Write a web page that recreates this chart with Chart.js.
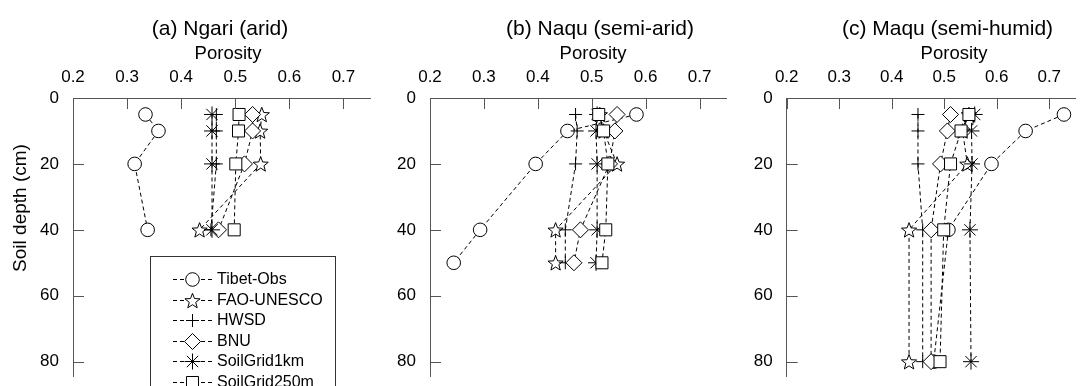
<!DOCTYPE html>
<html>
<head>
<meta charset="utf-8">
<script src="https://cdn.jsdelivr.net/npm/chart.js@4.4.1/dist/chart.umd.min.js"></script>
<style>
  html, body { margin: 0; padding: 0; background: #fff; }
  #wrap { position: relative; width: 1085px; height: 386px; overflow: hidden; }
  canvas { position: absolute; top: 0; }
</style>
</head>
<body>
<div id="wrap">
  <canvas id="chartA" width="380" height="386" style="left:0px"></canvas>
  <canvas id="chartB" width="360" height="386" style="left:376px"></canvas>
  <canvas id="chartC" width="353" height="386" style="left:732px"></canvas>
</div>
<script>
// tick labels
const porosityTicks = [0.2, 0.3, 0.4, 0.5, 0.6, 0.7];
const depthTicks = [0, 20, 40, 60, 80];
const seriesNames = ['Tibet-Obs', 'FAO-UNESCO', 'HWSD', 'BNU', 'SoilGrid1km', 'SoilGrid250m'];

// (a) Ngari
const depthNgari = [5, 10, 20, 40];
const obsNgari = [0.334, 0.358, 0.314, 0.338];
const faoNgari = [0.549, 0.546, 0.547, 0.434];
const hwsdNgari = [0.465, 0.465, 0.465, 0.455];
const bnuNgari = [0.532, 0.532, 0.517, 0.469];
const sg1kmNgari = [0.457, 0.457, 0.457, 0.457];
const sg250mNgari = [0.507, 0.506, 0.501, 0.498];

// (b) Naqu
const depthNaqu = [5, 10, 20, 40, 50];
const obsNaqu = [0.583, 0.455, 0.396, 0.293, 0.244];
const faoNaqu = [0.515, 0.522, 0.547, 0.433, 0.433];
const hwsdNaqu = [0.470, 0.473, 0.470, 0.451, 0.451];
const bnuNaqu = [0.547, 0.543, 0.533, 0.479, 0.467];
const sg1kmNaqu = [0.510, 0.508, 0.510, 0.510, 0.508];
const sg250mNaqu = [0.513, 0.522, 0.530, 0.526, 0.519];

// (c) Maqu
const depthMaqu = [5, 10, 20, 40, 80];
const obsMaqu = [0.728, 0.655, 0.590, 0.508, 0.480];
const faoMaqu = [0.547, 0.535, 0.544, 0.433, 0.433];
const hwsdMaqu = [0.450, 0.450, 0.450, 0.459, 0.459];
const bnuMaqu = [0.512, 0.506, 0.493, 0.475, 0.475];
const sg1kmMaqu = [0.558, 0.552, 0.553, 0.549, 0.551];
const sg250mMaqu = [0.547, 0.532, 0.512, 0.499, 0.492];

const family = '"Liberation Sans", Arial, Helvetica, sans-serif';
const axisColor = '#555';

// marker per series (FAO star is drawn by the plugin, chart.js has no 5-point star)
const pointStyles = ['circle', 'circle', 'cross', 'rectRot', 'star', 'rect'];
const pointSizes = [6.8, 0, 6.5, 8, 8, 8.5];

function starPath(ctx, x, y) {
  ctx.beginPath();
  for (let k = 0; k < 10; k++) {
    const r = k % 2 === 0 ? 8 : 3.4;
    const a = -Math.PI / 2 + k * Math.PI / 5;
    const px = x + r * Math.cos(a), py = y + 0.8 + r * Math.sin(a);
    if (k === 0) ctx.moveTo(px, py); else ctx.lineTo(px, py);
  }
  ctx.closePath();
  ctx.fill();
  ctx.stroke();
}

function drawMarker(ctx, i, x, y) {
  ctx.save();
  ctx.setLineDash([]);
  ctx.lineWidth = 1;
  ctx.strokeStyle = '#000';
  ctx.fillStyle = '#fff';
  if (i === 1) {
    starPath(ctx, x, y);
  } else {
    Chart.helpers.drawPoint(ctx, { pointStyle: pointStyles[i], radius: pointSizes[i], rotation: 0, borderWidth: 1 }, x, y);
  }
  ctx.restore();
}

function buildDatasets(depths, series) {
  return series.map((vals, i) => ({
    label: seriesNames[i],
    data: depths.map((d, j) => ({ x: vals[j], y: d })),
    showLine: true,
    borderColor: '#000',
    borderWidth: 1,
    borderDash: [4, 3],
    pointStyle: pointStyles[i],
    pointRadius: pointSizes[i],
    pointBackgroundColor: '#fff',
    pointBorderColor: '#000',
    pointBorderWidth: 1,
    order: series.length - i,
    clip: false
  }));
}

// titles, inward tick marks, star markers, legend
const panelText = {
  id: 'panelText',
  afterDatasetDraw(chart, args) {
    if (chart.data.datasets[args.index].label !== 'FAO-UNESCO') return;
    const ctx = chart.ctx;
    args.meta.data.forEach(pt => drawMarker(ctx, 1, pt.x, pt.y));
  },
  afterDraw(chart, args, opts) {
    const ctx = chart.ctx;
    const area = chart.chartArea;
    const xs = chart.scales.x, ys = chart.scales.y;
    ctx.save();
    ctx.strokeStyle = axisColor;
    ctx.lineWidth = 1;
    ctx.setLineDash([]);
    ctx.beginPath();
    xs.ticks.forEach(t => {
      const px = Math.round(xs.getPixelForValue(t.value)) + 0.5;
      ctx.moveTo(px, area.top); ctx.lineTo(px, area.top + 11);
    });
    ys.ticks.forEach(t => {
      const py = Math.round(ys.getPixelForValue(t.value)) + 0.5;
      ctx.moveTo(area.left, py); ctx.lineTo(area.left + 11, py);
    });
    ctx.stroke();

    ctx.fillStyle = '#000';
    ctx.textAlign = 'center';
    ctx.textBaseline = 'alphabetic';
    ctx.font = '21px ' + family;
    ctx.fillText(opts.title, opts.titleX, 35);
    ctx.font = '18.5px ' + family;
    ctx.fillText('Porosity', opts.axisX, 58.5);

    if (opts.yTitle) {
      ctx.save();
      ctx.translate(21, 208);
      ctx.rotate(-Math.PI / 2);
      ctx.font = '19px ' + family;
      ctx.textBaseline = 'middle';
      ctx.fillText(opts.yTitle, 0, 0);
      ctx.restore();
    }

    if (opts.legend) {
      ctx.fillStyle = '#fff';
      ctx.fillRect(150.5, 256.5, 185, 200);
      ctx.strokeStyle = '#333';
      ctx.strokeRect(150.5, 256.5, 185, 200);
      ctx.font = '16px ' + family;
      ctx.textAlign = 'left';
      ctx.textBaseline = 'middle';
      chart.data.datasets.forEach((ds, i) => {
        const y = Math.round(279 + i * 20.5) + 0.5;
        ctx.strokeStyle = '#000';
        ctx.setLineDash([4, 3]);
        ctx.beginPath();
        ctx.moveTo(173, y);
        ctx.lineTo(212, y);
        ctx.stroke();
        drawMarker(ctx, i, 192.5, y);
        ctx.fillStyle = '#000';
        ctx.fillText(ds.label, 217, y);
      });
    }
    ctx.restore();
  }
};

function makeChart(id, depths, series, yWidth, padRight, text) {
  const ctx = document.getElementById(id).getContext('2d');
  return new Chart(ctx, {
    type: 'scatter',
    data: { datasets: buildDatasets(depths, series) },
    options: {
      responsive: false,
      animation: false,
      events: [],
      layout: { padding: { left: 0, top: 0, right: padRight, bottom: 0 } },
      plugins: {
        legend: { display: false },
        tooltip: { enabled: false },
        panelText: text
      },
      scales: {
        x: {
          type: 'linear',
          position: 'top',
          min: 0.2,
          max: 0.75,
          afterBuildTicks: s => { s.ticks = porosityTicks.map(v => ({ value: v })); },
          afterFit: s => { s.height = 98; s.paddingLeft = 0; s.paddingRight = 0; },
          grid: { display: false, drawTicks: false },
          border: { display: true, color: axisColor, width: 1 },
          ticks: {
            color: '#000',
            font: { size: 17, family: family },
            padding: 10,
            autoSkip: false,
            maxRotation: 0,
            callback: v => v.toFixed(1)
          }
        },
        y: {
          type: 'linear',
          reverse: true,
          min: 0,
          max: 84.5,
          afterBuildTicks: s => { s.ticks = depthTicks.map(v => ({ value: v })); },
          afterFit: s => { s.width = yWidth; s.paddingTop = 0; s.paddingBottom = 0; },
          grid: { display: false, drawTicks: false },
          border: { display: true, color: axisColor, width: 1 },
          ticks: {
            color: '#000',
            font: { size: 17, family: family },
            padding: 14,
            autoSkip: false
          }
        }
      }
    },
    plugins: [panelText]
  });
}

makeChart('chartA', depthNgari,
  [obsNgari, faoNgari, hwsdNgari, bnuNgari, sg1kmNgari, sg250mNgari],
  73, 8.6, { title: '(a) Ngari (arid)', titleX: 220, axisX: 228, yTitle: 'Soil depth (cm)', legend: true });

makeChart('chartB', depthNaqu,
  [obsNaqu, faoNaqu, hwsdNaqu, bnuNaqu, sg1kmNaqu, sg250mNaqu],
  54, 7.1, { title: '(b) Naqu (semi-arid)', titleX: 224, axisX: 217 });

makeChart('chartC', depthMaqu,
  [obsMaqu, faoMaqu, hwsdMaqu, bnuMaqu, sg1kmMaqu, sg250mMaqu],
  54.7, 1.3, { title: '(c) Maqu (semi-humid)', titleX: 215.5, axisX: 222 });
</script>
</body>
</html>
